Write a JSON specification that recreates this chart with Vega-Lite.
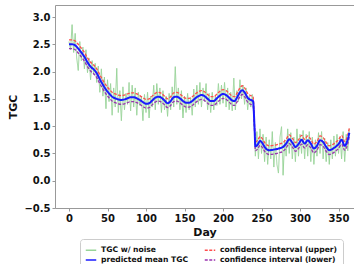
{
  "$schema": "https://vega.github.io/schema/vega-lite/v6.json",
  "width": 299,
  "height": 203,
  "autosize": {"type": "none"},
  "padding": {"left": 55, "top": 5, "right": 0, "bottom": 56},
  "background": "white",
  "config": {
    "font": "DejaVu Sans",
    "view": {"stroke": "#999", "strokeWidth": 1},
    "axis": {
      "labelFont": "DejaVu Sans", "labelFontWeight": "bold", "labelFontSize": 10, "labelColor": "#111",
      "titleFont": "DejaVu Sans", "titleFontWeight": "bold", "titleFontSize": 11, "titleColor": "#111",
      "domain": false, "grid": false, "tickColor": "#999", "tickSize": 3, "labelPadding": 2
    },
    "legend": {
      "labelFont": "DejaVu Sans", "labelFontWeight": "bold", "labelFontSize": 7.6, "labelColor": "#111"
    }
  },
  "datasets": {
    "noise": [
      {"day":0,"noise":2.55},{"day":2,"noise":2.40},{"day":4,"noise":2.86},{"day":6,"noise":2.35},{"day":8,"noise":2.70},
      {"day":10,"noise":2.25},{"day":12,"noise":2.02},{"day":14,"noise":2.55},{"day":16,"noise":2.20},{"day":18,"noise":2.45},
      {"day":20,"noise":2.05},{"day":22,"noise":2.40},{"day":24,"noise":1.98},{"day":26,"noise":2.25},{"day":28,"noise":1.85},
      {"day":30,"noise":2.20},{"day":32,"noise":1.95},{"day":34,"noise":2.15},{"day":36,"noise":1.80},{"day":38,"noise":2.10},
      {"day":40,"noise":1.62},{"day":42,"noise":2.05},{"day":44,"noise":1.55},{"day":46,"noise":1.90},{"day":48,"noise":1.32},
      {"day":50,"noise":1.85},{"day":52,"noise":1.45},{"day":54,"noise":1.78},{"day":56,"noise":1.20},{"day":58,"noise":1.70},
      {"day":60,"noise":1.35},{"day":62,"noise":2.06},{"day":64,"noise":1.25},{"day":66,"noise":1.65},{"day":68,"noise":1.10},
      {"day":70,"noise":1.72},{"day":72,"noise":1.30},{"day":74,"noise":1.60},{"day":76,"noise":1.40},{"day":78,"noise":1.80},
      {"day":80,"noise":1.28},{"day":82,"noise":1.75},{"day":84,"noise":1.35},{"day":86,"noise":1.70},{"day":88,"noise":1.20},
      {"day":90,"noise":1.62},{"day":92,"noise":1.38},{"day":94,"noise":1.55},{"day":96,"noise":1.10},{"day":98,"noise":1.58},
      {"day":100,"noise":1.25},{"day":102,"noise":1.62},{"day":104,"noise":1.15},{"day":106,"noise":1.55},{"day":108,"noise":1.35},
      {"day":110,"noise":1.75},{"day":112,"noise":1.30},{"day":114,"noise":1.78},{"day":116,"noise":1.40},{"day":118,"noise":1.70},
      {"day":120,"noise":1.25},{"day":122,"noise":1.65},{"day":124,"noise":1.30},{"day":126,"noise":1.55},{"day":128,"noise":1.18},
      {"day":130,"noise":1.60},{"day":132,"noise":1.30},{"day":134,"noise":1.72},{"day":136,"noise":1.35},{"day":138,"noise":2.09},
      {"day":140,"noise":1.40},{"day":142,"noise":1.70},{"day":144,"noise":1.30},{"day":146,"noise":1.65},{"day":148,"noise":1.15},
      {"day":150,"noise":1.55},{"day":152,"noise":1.25},{"day":154,"noise":1.60},{"day":156,"noise":1.30},{"day":158,"noise":1.52},
      {"day":160,"noise":1.20},{"day":162,"noise":1.68},{"day":164,"noise":1.35},{"day":166,"noise":1.75},{"day":168,"noise":1.40},
      {"day":170,"noise":1.80},{"day":172,"noise":1.35},{"day":174,"noise":1.70},{"day":176,"noise":1.45},{"day":178,"noise":1.78},
      {"day":180,"noise":1.30},{"day":182,"noise":1.60},{"day":184,"noise":1.25},{"day":186,"noise":1.62},{"day":188,"noise":1.30},
      {"day":190,"noise":1.55},{"day":192,"noise":1.38},{"day":194,"noise":1.78},{"day":196,"noise":1.40},{"day":198,"noise":1.75},
      {"day":200,"noise":1.42},{"day":202,"noise":1.80},{"day":204,"noise":1.35},{"day":206,"noise":1.70},{"day":208,"noise":1.30},
      {"day":210,"noise":1.62},{"day":212,"noise":1.28},{"day":214,"noise":1.88},{"day":216,"noise":1.30},{"day":218,"noise":1.65},
      {"day":220,"noise":1.45},{"day":222,"noise":1.85},{"day":224,"noise":1.50},{"day":226,"noise":1.75},{"day":228,"noise":1.40},
      {"day":230,"noise":1.70},{"day":232,"noise":1.30},{"day":234,"noise":1.55},{"day":236,"noise":1.35},{"day":238,"noise":1.58},
      {"day":240,"noise":1.20},{"day":242,"noise":0.45},{"day":244,"noise":0.90},{"day":246,"noise":0.40},{"day":248,"noise":0.95},
      {"day":250,"noise":0.50},{"day":252,"noise":0.85},{"day":254,"noise":0.35},{"day":256,"noise":0.80},{"day":258,"noise":0.30},
      {"day":260,"noise":0.75},{"day":262,"noise":0.40},{"day":264,"noise":0.90},{"day":266,"noise":0.25},{"day":268,"noise":0.70},
      {"day":270,"noise":0.30},{"day":272,"noise":0.14},{"day":274,"noise":0.80},{"day":276,"noise":0.99},{"day":278,"noise":0.10},
      {"day":280,"noise":0.75},{"day":282,"noise":0.45},{"day":284,"noise":0.95},{"day":286,"noise":0.50},{"day":288,"noise":0.88},
      {"day":290,"noise":0.40},{"day":292,"noise":0.80},{"day":294,"noise":0.35},{"day":296,"noise":0.95},{"day":298,"noise":0.45},
      {"day":300,"noise":0.85},{"day":302,"noise":0.50},{"day":304,"noise":0.92},{"day":306,"noise":0.40},{"day":308,"noise":0.85},
      {"day":310,"noise":0.45},{"day":312,"noise":0.90},{"day":314,"noise":0.35},{"day":316,"noise":0.80},{"day":318,"noise":0.30},
      {"day":320,"noise":0.75},{"day":322,"noise":0.45},{"day":324,"noise":0.88},{"day":326,"noise":0.50},{"day":328,"noise":0.90},
      {"day":330,"noise":0.40},{"day":332,"noise":0.78},{"day":334,"noise":0.35},{"day":336,"noise":0.70},{"day":338,"noise":0.30},
      {"day":340,"noise":0.75},{"day":342,"noise":0.40},{"day":344,"noise":0.82},{"day":346,"noise":0.45},{"day":348,"noise":0.85},
      {"day":350,"noise":0.50},{"day":352,"noise":0.80},{"day":354,"noise":0.40},{"day":356,"noise":0.90},{"day":358,"noise":0.35},
      {"day":360,"noise":0.85},{"day":362,"noise":0.55},{"day":364,"noise":0.95}
    ],
    "fit": [
      {"day":0,"mean":2.50,"upper":2.58,"lower":2.42},
      {"day":4,"mean":2.50,"upper":2.58,"lower":2.42},
      {"day":8,"mean":2.48,"upper":2.56,"lower":2.40},
      {"day":12,"mean":2.42,"upper":2.50,"lower":2.34},
      {"day":16,"mean":2.35,"upper":2.43,"lower":2.27},
      {"day":20,"mean":2.27,"upper":2.35,"lower":2.19},
      {"day":24,"mean":2.17,"upper":2.25,"lower":2.09},
      {"day":28,"mean":2.09,"upper":2.17,"lower":2.01},
      {"day":32,"mean":2.04,"upper":2.12,"lower":1.96},
      {"day":36,"mean":1.97,"upper":2.05,"lower":1.89},
      {"day":40,"mean":1.86,"upper":1.94,"lower":1.78},
      {"day":44,"mean":1.76,"upper":1.84,"lower":1.68},
      {"day":48,"mean":1.67,"upper":1.75,"lower":1.59},
      {"day":52,"mean":1.60,"upper":1.68,"lower":1.52},
      {"day":56,"mean":1.54,"upper":1.62,"lower":1.46},
      {"day":60,"mean":1.51,"upper":1.59,"lower":1.43},
      {"day":64,"mean":1.49,"upper":1.57,"lower":1.41},
      {"day":68,"mean":1.48,"upper":1.56,"lower":1.40},
      {"day":72,"mean":1.49,"upper":1.57,"lower":1.41},
      {"day":76,"mean":1.51,"upper":1.59,"lower":1.43},
      {"day":80,"mean":1.53,"upper":1.61,"lower":1.45},
      {"day":84,"mean":1.53,"upper":1.61,"lower":1.45},
      {"day":88,"mean":1.51,"upper":1.59,"lower":1.43},
      {"day":92,"mean":1.48,"upper":1.56,"lower":1.40},
      {"day":96,"mean":1.44,"upper":1.52,"lower":1.36},
      {"day":100,"mean":1.41,"upper":1.49,"lower":1.33},
      {"day":104,"mean":1.42,"upper":1.50,"lower":1.34},
      {"day":108,"mean":1.47,"upper":1.55,"lower":1.39},
      {"day":112,"mean":1.52,"upper":1.60,"lower":1.44},
      {"day":116,"mean":1.54,"upper":1.62,"lower":1.46},
      {"day":120,"mean":1.52,"upper":1.60,"lower":1.44},
      {"day":124,"mean":1.47,"upper":1.55,"lower":1.39},
      {"day":128,"mean":1.42,"upper":1.50,"lower":1.34},
      {"day":132,"mean":1.46,"upper":1.54,"lower":1.38},
      {"day":136,"mean":1.53,"upper":1.61,"lower":1.45},
      {"day":140,"mean":1.54,"upper":1.62,"lower":1.46},
      {"day":144,"mean":1.51,"upper":1.59,"lower":1.43},
      {"day":148,"mean":1.46,"upper":1.54,"lower":1.38},
      {"day":152,"mean":1.43,"upper":1.51,"lower":1.35},
      {"day":156,"mean":1.43,"upper":1.51,"lower":1.35},
      {"day":160,"mean":1.46,"upper":1.54,"lower":1.38},
      {"day":164,"mean":1.51,"upper":1.59,"lower":1.43},
      {"day":168,"mean":1.55,"upper":1.63,"lower":1.47},
      {"day":172,"mean":1.57,"upper":1.65,"lower":1.49},
      {"day":176,"mean":1.55,"upper":1.63,"lower":1.47},
      {"day":180,"mean":1.50,"upper":1.58,"lower":1.42},
      {"day":184,"mean":1.46,"upper":1.54,"lower":1.38},
      {"day":188,"mean":1.46,"upper":1.54,"lower":1.38},
      {"day":192,"mean":1.51,"upper":1.59,"lower":1.43},
      {"day":196,"mean":1.56,"upper":1.64,"lower":1.48},
      {"day":200,"mean":1.59,"upper":1.67,"lower":1.51},
      {"day":204,"mean":1.57,"upper":1.65,"lower":1.49},
      {"day":208,"mean":1.52,"upper":1.60,"lower":1.44},
      {"day":212,"mean":1.47,"upper":1.55,"lower":1.39},
      {"day":215,"mean":1.46,"upper":1.54,"lower":1.38},
      {"day":218,"mean":1.52,"upper":1.60,"lower":1.44},
      {"day":222,"mean":1.62,"upper":1.70,"lower":1.54},
      {"day":225,"mean":1.66,"upper":1.74,"lower":1.58},
      {"day":228,"mean":1.62,"upper":1.70,"lower":1.54},
      {"day":232,"mean":1.52,"upper":1.60,"lower":1.44},
      {"day":236,"mean":1.48,"upper":1.56,"lower":1.40},
      {"day":239,"mean":1.46,"upper":1.54,"lower":1.38},
      {"day":241,"mean":0.95,"upper":1.00,"lower":0.90},
      {"day":242,"mean":0.63,"upper":0.71,"lower":0.55},
      {"day":245,"mean":0.66,"upper":0.74,"lower":0.58},
      {"day":248,"mean":0.73,"upper":0.81,"lower":0.65},
      {"day":251,"mean":0.69,"upper":0.77,"lower":0.61},
      {"day":255,"mean":0.60,"upper":0.68,"lower":0.52},
      {"day":260,"mean":0.56,"upper":0.64,"lower":0.48},
      {"day":266,"mean":0.57,"upper":0.65,"lower":0.49},
      {"day":272,"mean":0.59,"upper":0.67,"lower":0.51},
      {"day":278,"mean":0.62,"upper":0.70,"lower":0.54},
      {"day":282,"mean":0.68,"upper":0.76,"lower":0.60},
      {"day":286,"mean":0.76,"upper":0.84,"lower":0.68},
      {"day":290,"mean":0.70,"upper":0.78,"lower":0.62},
      {"day":294,"mean":0.62,"upper":0.70,"lower":0.54},
      {"day":298,"mean":0.67,"upper":0.75,"lower":0.59},
      {"day":302,"mean":0.75,"upper":0.83,"lower":0.67},
      {"day":306,"mean":0.68,"upper":0.76,"lower":0.60},
      {"day":310,"mean":0.74,"upper":0.82,"lower":0.66},
      {"day":314,"mean":0.68,"upper":0.76,"lower":0.60},
      {"day":318,"mean":0.59,"upper":0.67,"lower":0.51},
      {"day":322,"mean":0.64,"upper":0.72,"lower":0.56},
      {"day":326,"mean":0.74,"upper":0.82,"lower":0.66},
      {"day":330,"mean":0.71,"upper":0.79,"lower":0.63},
      {"day":334,"mean":0.62,"upper":0.70,"lower":0.54},
      {"day":338,"mean":0.56,"upper":0.64,"lower":0.48},
      {"day":342,"mean":0.58,"upper":0.66,"lower":0.50},
      {"day":346,"mean":0.62,"upper":0.70,"lower":0.54},
      {"day":350,"mean":0.67,"upper":0.75,"lower":0.59},
      {"day":354,"mean":0.75,"upper":0.83,"lower":0.67},
      {"day":358,"mean":0.64,"upper":0.72,"lower":0.56},
      {"day":362,"mean":0.76,"upper":0.84,"lower":0.68},
      {"day":364,"mean":0.88,"upper":0.96,"lower":0.80}
    ]
  },
  "encoding": {
    "x": {
      "field": "day", "type": "quantitative",
      "scale": {"domain": [-18.2, 370.1], "nice": false, "zero": false},
      "axis": {"values": [0, 50, 100, 150, 200, 250, 300, 350], "title": "Day", "titlePadding": 3}
    },
    "y": {
      "field": "value", "type": "quantitative",
      "scale": {"domain": [-0.5, 3.22], "nice": false, "zero": false},
      "axis": {"values": [-0.5, 0, 0.5, 1, 1.5, 2, 2.5, 3], "format": ".1f", "title": "TGC", "titlePadding": 5}
    },
    "color": {
      "field": "series", "type": "nominal",
      "scale": {"domain": ["noise", "mean", "upper", "lower"], "range": ["#98d498", "#1a1aff", "#ff4d4d", "#9a35b0"]},
      "legend": {
        "values": ["noise", "mean", "upper", "lower"],
        "orient": "none", "legendX": 25, "legendY": 234, "columns": 2, "columnPadding": 13, "rowPadding": 0,
        "title": null, "symbolType": "stroke", "symbolSize": 110, "symbolStrokeWidth": 1.5, "labelOffset": 4,
        "strokeColor": "#ccc", "fillColor": "white", "padding": 5, "cornerRadius": 3,
        "labelExpr": "datum.label == 'noise' ? 'TGC w/ noise' : datum.label == 'mean' ? 'predicted mean TGC' : datum.label == 'upper' ? 'confidence interval (upper)' : 'confidence interval (lower)'"
      }
    },
    "strokeDash": {
      "field": "series", "type": "nominal",
      "scale": {"domain": ["noise", "mean", "upper", "lower"], "range": [[1, 0], [1, 0], [3, 1.5], [3, 1.5]]}
    }
  },
  "layer": [
    {
      "data": {"name": "noise"},
      "transform": [{"fold": ["noise"], "as": ["series", "value"]}],
      "mark": {"type": "line", "strokeWidth": 1}
    },
    {
      "data": {"name": "fit"},
      "transform": [{"fold": ["upper", "lower"], "as": ["series", "value"]}],
      "mark": {"type": "line", "interpolate": "monotone", "strokeWidth": 1.3}
    },
    {
      "data": {"name": "fit"},
      "transform": [{"fold": ["mean"], "as": ["series", "value"]}],
      "mark": {"type": "line", "interpolate": "monotone", "strokeWidth": 2}
    }
  ]
}
